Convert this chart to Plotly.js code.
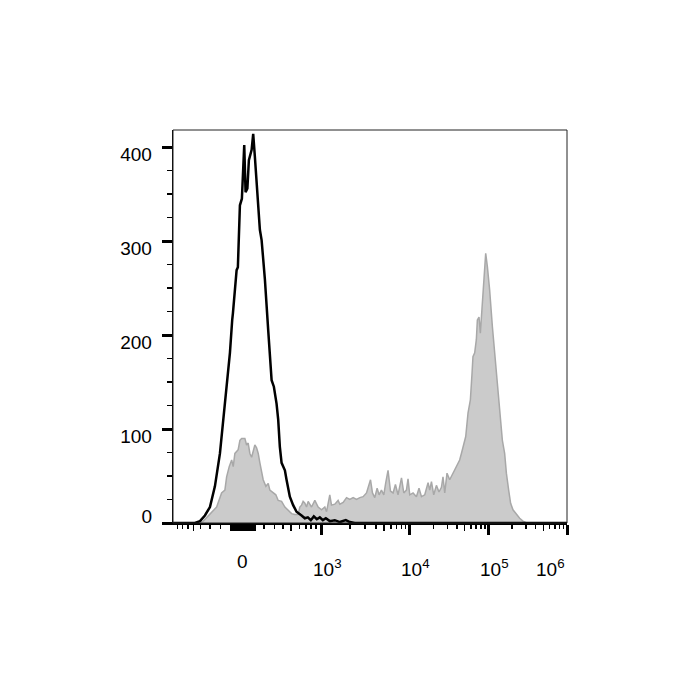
<!DOCTYPE html>
<html>
<head>
<meta charset="utf-8">
<script src="https://cdn.plot.ly/plotly-3.0.1.min.js"></script>
<style>html,body{margin:0;padding:0;background:#fff;}#chart{width:700px;height:700px;}</style>
</head>
<body>
<div id="chart"></div>
<script>
// x values are positions on the biexponential display scale (10^k sits at k for k>=4)
const blackX = [0.989,1.141,1.268,1.332,1.395,1.459,1.522,1.586,1.628,1.671,1.713,1.742,1.751,1.798,1.814,1.840,1.865,1.895,1.912,1.935,1.954,1.989,2.009,2.030,2.065,2.094,2.116,2.158,2.200,2.221,2.243,2.272,2.306,2.327,2.348,2.370,2.412,2.433,2.475,2.517,2.560,2.624,2.666,2.704,2.742,2.780,2.818,2.856,2.895,2.933,2.983,3.047,3.111,3.187,3.238,3.301,6.0];
const blackY = [0,0,0,2,8,17,39,74,110,145,181,216,223,269,272,338,345,402,352,356,386,397,414,390,347,312,301,259,205,181,152,145,127,110,81,64,56,46,28,19,12,8,5,6,3,7,4,6,3,5,2,3,1,3,1,0,0];

const grayX = [0.989,1.332,1.374,1.459,1.544,1.607,1.649,1.671,1.704,1.735,1.755,1.776,1.818,1.840,1.862,1.903,1.925,1.945,1.967,1.989,2.009,2.030,2.052,2.073,2.094,2.116,2.136,2.170,2.200,2.221,2.263,2.297,2.327,2.370,2.412,2.454,2.497,2.539,2.581,2.602,2.624,2.644,2.666,2.687,2.708,2.751,2.793,2.835,2.878,2.920,2.942,2.983,3.005,3.047,3.089,3.111,3.153,3.196,3.238,3.280,3.323,3.365,3.407,3.450,3.470,3.501,3.526,3.555,3.585,3.610,3.640,3.670,3.695,3.724,3.755,3.788,3.818,3.851,3.895,3.924,3.958,3.978,4.000,4.042,4.085,4.118,4.149,4.191,4.233,4.254,4.276,4.305,4.339,4.372,4.403,4.423,4.445,4.474,4.508,4.550,4.593,4.635,4.657,4.677,4.712,4.741,4.771,4.792,4.804,4.826,4.847,4.860,4.881,4.898,4.919,4.940,4.966,4.987,5.016,5.051,5.080,5.109,5.135,5.156,5.178,5.207,5.229,5.258,5.283,5.313,5.356,5.398,5.440,5.487,6.0];
const grayY = [0,0,2,10,17,32,35,49,60,67,60,74,78,88,90,90,83,85,74,70,78,83,80,74,64,53,46,39,42,35,32,30,24,23,17,14,10,9,9,17,19,23,21,17,23,17,24,17,14,17,12,30,19,20,24,20,22,27,25,27,25,27,28,32,37,46,32,27,37,30,35,30,43,56,34,32,41,30,48,32,35,47,30,32,28,37,28,30,43,35,44,30,40,33,38,49,32,53,46,53,60,67,74,81,92,117,131,159,177,181,195,216,219,202,227,259,287,273,248,209,181,152,124,108,88,74,53,35,21,14,9,5,2,0,0];

// axis ticks
const xMajorVals = [2.873, 4, 5, 6];
const xLabelVals = [1.878, 2.873, 4, 5, 6];
const xLabelText = ['0', '10<sup>3</sup>', '10<sup>4</sup>', '10<sup>5</sup>', '10<sup>6</sup>'];
const xMinorShort = [1.043,1.112,1.179,1.341,1.459,1.595,2.145,2.281,2.386,2.599,2.679,2.746,2.806,
  3.238,3.432,3.568,3.762,3.831,3.898,3.949,
  4.301,4.477,4.602,4.778,4.845,4.903,4.954,
  5.301,5.477,5.602,5.778,5.845,5.903,5.954];
const xMinorLong = [1.247,2.492,3.670,4.699,5.699,
  1.726,1.751,1.777,1.802,1.827,1.853,1.878,1.904,1.929,1.955,1.980,2.005,2.031];
const yLabelVals = [100, 200, 300, 400];
const yLabelText = ['100', '200', '300', '400'];
const yZeroVals = [0];
const yZeroText = ['0'];
const yMinorVals = [25,50,75,125,150,175,225,250,275,325,350,375];

const FONT = 'Arial, "Liberation Sans", sans-serif';
const FS = 19;
const xRange = [0.989, 6.0];
const yRange = [0, 418.1];

const traces = [
  {x: grayX, y: grayY, type: 'scatter', mode: 'lines', fill: 'tozeroy',
   fillcolor: '#cbcbcb', line: {color: '#a8a8a8', width: 1.5}, xaxis: 'x', yaxis: 'y', hoverinfo: 'skip'},
  {x: blackX, y: blackY, type: 'scatter', mode: 'lines',
   line: {color: '#000000', width: 2.5}, xaxis: 'x2', yaxis: 'y2', hoverinfo: 'skip'}
];

const shifts = [0, 6, 6, 6, 0];
const anchors = ['center', 'center', 'center', 'center', 'right'];
const vshift = [-26, -31, -31, -31, -31];
const annotations = xLabelVals.map((v, i) => ({
  x: v, xref: 'x', y: 0, yref: 'paper', text: xLabelText[i], showarrow: false,
  xanchor: anchors[i], yanchor: 'top', xshift: shifts[i], yshift: vshift[i],
  font: {family: FONT, size: FS, color: '#000'}
}));

const layout = {
  width: 700, height: 700,
  margin: {l: 173, r: 133, t: 130, b: 177},
  paper_bgcolor: '#fff', plot_bgcolor: '#fff',
  showlegend: false,
  font: {family: FONT, size: FS, color: '#000'},
  xaxis: {
    range: xRange, type: 'linear', showgrid: false, zeroline: false,
    showline: true, linecolor: '#000', linewidth: 2,
    tickmode: 'array', tickvals: xMajorVals, showticklabels: false,
    ticks: 'outside', ticklen: 10, tickwidth: 3, tickcolor: '#000',
    minor: {tickmode: 'array', tickvals: xMinorShort, ticks: 'outside', ticklen: 4, tickwidth: 1.5, tickcolor: '#000', showgrid: false}
  },
  xaxis2: {
    range: xRange, overlaying: 'x', anchor: 'y', side: 'bottom', showgrid: false, zeroline: false,
    showline: false, tickmode: 'array', tickvals: xMinorLong, showticklabels: false,
    ticks: 'outside', ticklen: 7, tickwidth: 1.5, tickcolor: '#000'
  },
  yaxis: {
    range: yRange, showgrid: false, zeroline: false,
    showline: true, linecolor: '#000', linewidth: 1.3,
    tickmode: 'array', tickvals: yLabelVals, ticktext: yLabelText,
    ticks: 'outside', ticklen: 10, tickwidth: 3, tickcolor: '#000',
    ticklabelstandoff: 6, ticklabelshift: 7,
    tickfont: {family: FONT, size: FS, color: '#000'},
    minor: {tickmode: 'array', tickvals: yMinorVals, ticks: 'outside', ticklen: 5, tickwidth: 1.5, tickcolor: '#000', showgrid: false}
  },
  yaxis2: {
    range: yRange, overlaying: 'y', anchor: 'x', side: 'left', showgrid: false, zeroline: false,
    showline: false, tickmode: 'array', tickvals: yZeroVals, ticktext: yZeroText,
    ticks: 'outside', ticklen: 10, tickwidth: 3, tickcolor: '#000',
    ticklabelstandoff: 6, ticklabelshift: -7,
    tickfont: {family: FONT, size: FS, color: '#000'}
  },
  shapes: [
    {type: 'rect', xref: 'paper', yref: 'paper', x0: 0, x1: 1, y0: 0, y1: 1,
     line: {color: '#222', width: 1}, fillcolor: 'rgba(0,0,0,0)', layer: 'above'}
  ],
  annotations: annotations
};

Plotly.newPlot('chart', traces, layout, {staticPlot: true, displayModeBar: false});
</script>
</body>
</html>
